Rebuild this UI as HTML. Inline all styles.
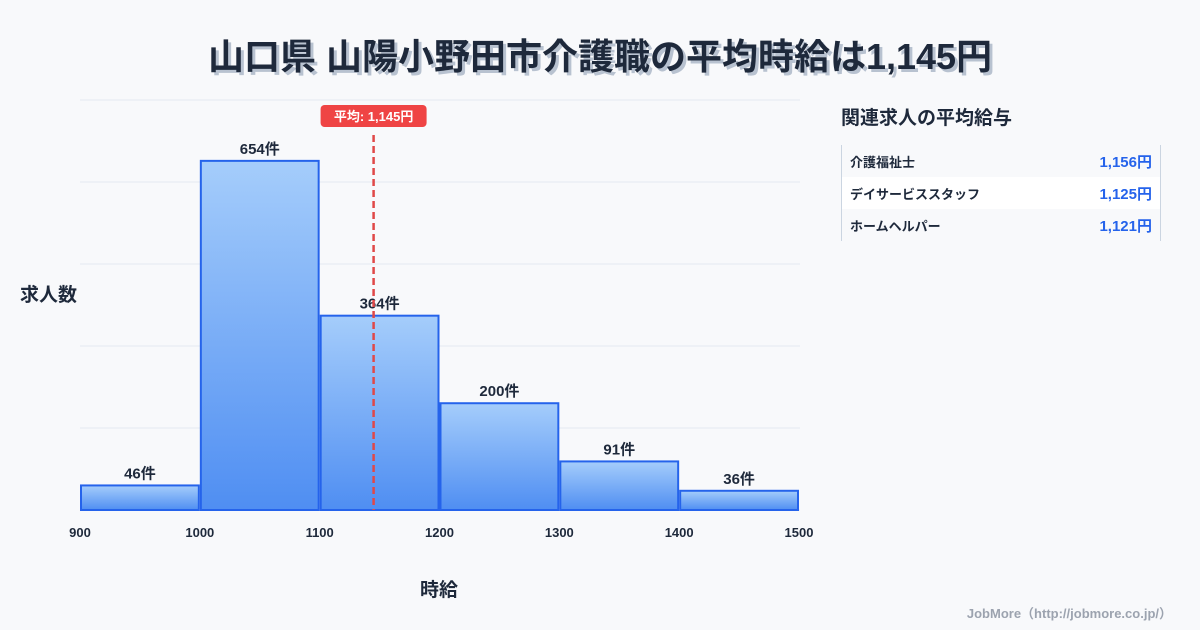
<!DOCTYPE html>
<html><head><meta charset="utf-8"><style>
body{margin:0;width:1200px;height:630px;background:#f8f9fb;font-family:"Liberation Sans","Noto Sans CJK JP",sans-serif;position:relative;overflow:hidden;color:#1e293b}
.t{position:absolute;white-space:nowrap}
</style></head><body>
<div class="t" style="left:0;width:1200px;top:28px;text-align:center;font-size:36px;font-weight:bold;color:#1e293b;text-shadow:3px 3px 0 #b8c2d0">山口県 山陽小野田市介護職の平均時給は1,145円</div>
<svg id="c" width="1200" height="630" style="position:absolute;left:0;top:0">
<defs><linearGradient id="g" x1="0" y1="0" x2="0" y2="1"><stop offset="0" stop-color="#a5cdfb"/><stop offset="1" stop-color="#4f8ef2"/></linearGradient></defs>
</svg>
<div class="t" style="left:20px;top:280px;font-size:19px;font-weight:bold">求人数</div>
<div class="t" style="left:420px;top:575px;font-size:19px;font-weight:bold">時給</div>
<div class="t" style="left:841px;top:103px;font-size:19px;font-weight:bold">関連求人の平均給与</div>
<div style="position:absolute;left:841px;top:145px;width:318px;border-left:1px solid #cbd5e1;border-right:1px solid #cbd5e1;font-size:13px;font-weight:bold">
<div style="height:32px;display:flex;justify-content:space-between;align-items:center;padding:0 8px;background:#f8f9fb"><span>介護福祉士</span><span style="color:#2563eb;font-size:15px">1,156円</span></div>
<div style="height:32px;display:flex;justify-content:space-between;align-items:center;padding:0 8px;background:#fff"><span>デイサービススタッフ</span><span style="color:#2563eb;font-size:15px">1,125円</span></div>
<div style="height:32px;display:flex;justify-content:space-between;align-items:center;padding:0 8px;background:#f8f9fb"><span>ホームヘルパー</span><span style="color:#2563eb;font-size:15px">1,121円</span></div>
</div>
<div class="t" style="right:28px;top:603px;font-size:13px;font-weight:bold;color:#9ca3af">JobMore（http://jobmore.co.jp/）</div>
<script>
const binStarts=[900,1000,1100,1200,1300,1400];
const binWidth=100;
const counts=[46,654,364,200,91,36];
const xTicks=[900,1000,1100,1200,1300,1400,1500];
const meanValue=1145;
const meanLabel="平均: 1,145円";
const yMax=768;
const svg=document.getElementById('c');
const NS='http://www.w3.org/2000/svg';
const x=v=>80+(v-900)*(719/600);
const y=v=>510-v*(410/yMax);
function mk(t,a){const e=document.createElementNS(NS,t);for(const k in a)e.setAttribute(k,a[k]);svg.appendChild(e);return e;}
for(let i=0;i<=5;i++){const g=mk('line',{x1:80,x2:800,y1:510-i*82,y2:510-i*82,stroke:'#e5e9f0','stroke-width':1});

}
counts.forEach((c,i)=>{
const r=mk('rect',{x:x(binStarts[i])+1,y:y(c),width:x(binStarts[i]+binWidth)-x(binStarts[i])-2,height:510-y(c),fill:'url(#g)',stroke:'#2563eb','stroke-width':2});


const t=mk('text',{x:x(binStarts[i]+binWidth/2),y:y(c)-7,'text-anchor':'middle','font-size':15,'font-weight':'bold',fill:'#1e293b'});
t.textContent=c+'件';


});
xTicks.forEach(v=>{const t=mk('text',{x:x(v),y:537,'text-anchor':'middle','font-size':13,'font-weight':'bold',fill:'#1e293b'});t.textContent=v;

});
const mx=x(meanValue);
const ml=mk('line',{x1:mx,x2:mx,y1:135,y2:510,stroke:'#e04848','stroke-width':2.5,'stroke-dasharray':'7,4'});


const mb=mk('rect',{x:mx-53,y:105,width:106,height:22,rx:4,fill:'#ef4444'});


const mt=mk('text',{x:mx,y:121,'text-anchor':'middle','font-size':13,'font-weight':'bold',fill:'#fff'});mt.textContent=meanLabel;


</script>
</body></html>
